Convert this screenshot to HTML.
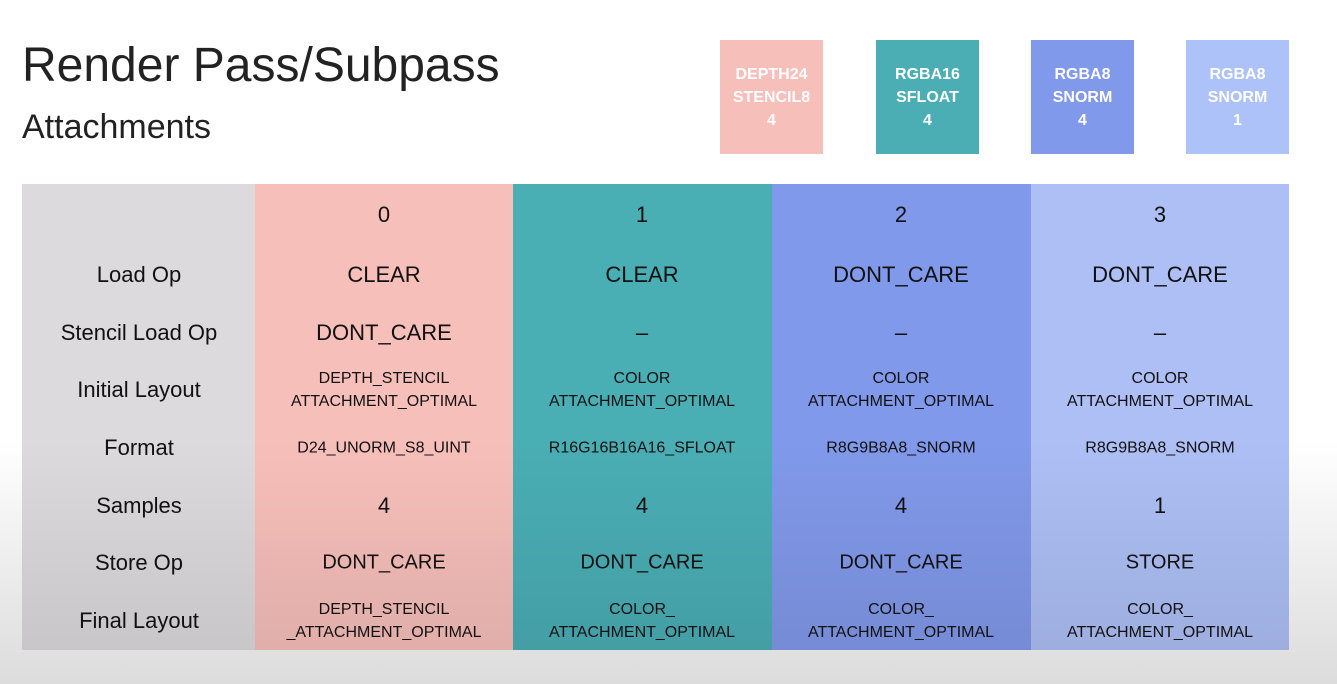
<!DOCTYPE html>
<html><head><style>
body{margin:0;width:1337px;height:684px;overflow:hidden;background:linear-gradient(#fff 0,#fff 440px,#dcdcdc 684px);font-family:"Liberation Sans",sans-serif;position:relative}
.t{position:absolute;color:#222}
.box{position:absolute;top:40px;width:103px;height:114px;color:#fff;font-size:16px;font-weight:bold;text-align:center;line-height:23px;display:flex;align-items:center;justify-content:center}
.col{position:absolute;top:184px;height:466px}
.c{position:absolute;transform:translate(-50%,-50%);text-align:center;white-space:nowrap;color:#111}
.lbl{font-size:22px}
.big{font-size:22px}
.sm{font-size:16px;line-height:23px}
.shade{position:absolute;left:22px;top:440px;width:1267px;height:210px;background:linear-gradient(rgba(0,0,0,0),rgba(0,0,0,0.09))}
</style></head><body>
<div class="t" style="left:22px;top:38px;font-size:48px;">Render Pass/Subpass</div>
<div class="t" style="left:22px;top:108px;font-size:34px;">Attachments</div>
<div class="box" style="left:720px;background:#f7bfba">DEPTH24<br>STENCIL8<br>4</div>
<div class="box" style="left:876px;background:#4caeb5">RGBA16<br>SFLOAT<br>4</div>
<div class="box" style="left:1031px;background:#8199ea">RGBA8<br>SNORM<br>4</div>
<div class="box" style="left:1186px;background:#adc2f9">RGBA8<br>SNORM<br>1</div>
<div class="col" style="left:22px;width:233px;background:#dcdadc"></div>
<div class="col" style="left:255px;width:258px;background:#f7bfba"></div>
<div class="col" style="left:513px;width:259px;background:#4aaeb5"></div>
<div class="col" style="left:772px;width:259px;background:#8199ea"></div>
<div class="col" style="left:1031px;width:258px;background:#adbff5"></div>
<div class="shade"></div>
<div class="c lbl" style="left:139px;top:275px">Load Op</div>
<div class="c lbl" style="left:139px;top:333px">Stencil Load Op</div>
<div class="c lbl" style="left:139px;top:390px">Initial Layout</div>
<div class="c lbl" style="left:139px;top:448px">Format</div>
<div class="c lbl" style="left:139px;top:506px">Samples</div>
<div class="c lbl" style="left:139px;top:563px">Store Op</div>
<div class="c lbl" style="left:139px;top:621px">Final Layout</div>

<div class="c big" style="left:384px;top:215px">0</div>
<div class="c big" style="left:642px;top:215px">1</div>
<div class="c big" style="left:901px;top:215px">2</div>
<div class="c big" style="left:1160px;top:215px">3</div>

<div class="c big" style="left:384px;top:275px">CLEAR</div>
<div class="c big" style="left:642px;top:275px">CLEAR</div>
<div class="c big" style="left:901px;top:275px">DONT_CARE</div>
<div class="c big" style="left:1160px;top:275px">DONT_CARE</div>

<div class="c big" style="left:384px;top:333px">DONT_CARE</div>
<div class="c big" style="left:642px;top:333px">–</div>
<div class="c big" style="left:901px;top:333px">–</div>
<div class="c big" style="left:1160px;top:333px">–</div>

<div class="c sm" style="left:384px;top:390px">DEPTH_STENCIL<br>ATTACHMENT_OPTIMAL</div>
<div class="c sm" style="left:642px;top:390px">COLOR<br>ATTACHMENT_OPTIMAL</div>
<div class="c sm" style="left:901px;top:390px">COLOR<br>ATTACHMENT_OPTIMAL</div>
<div class="c sm" style="left:1160px;top:390px">COLOR<br>ATTACHMENT_OPTIMAL</div>

<div class="c sm" style="left:384px;top:448px">D24_UNORM_S8_UINT</div>
<div class="c sm" style="left:642px;top:448px">R16G16B16A16_SFLOAT</div>
<div class="c sm" style="left:901px;top:448px">R8G9B8A8_SNORM</div>
<div class="c sm" style="left:1160px;top:448px">R8G9B8A8_SNORM</div>

<div class="c big" style="left:384px;top:506px">4</div>
<div class="c big" style="left:642px;top:506px">4</div>
<div class="c big" style="left:901px;top:506px">4</div>
<div class="c big" style="left:1160px;top:506px">1</div>

<div class="c" style="left:384px;top:563px;font-size:20px">DONT_CARE</div>
<div class="c" style="left:642px;top:563px;font-size:20px">DONT_CARE</div>
<div class="c" style="left:901px;top:563px;font-size:20px">DONT_CARE</div>
<div class="c" style="left:1160px;top:563px;font-size:20px">STORE</div>

<div class="c sm" style="left:384px;top:621px">DEPTH_STENCIL<br>_ATTACHMENT_OPTIMAL</div>
<div class="c sm" style="left:642px;top:621px">COLOR_<br>ATTACHMENT_OPTIMAL</div>
<div class="c sm" style="left:901px;top:621px">COLOR_<br>ATTACHMENT_OPTIMAL</div>
<div class="c sm" style="left:1160px;top:621px">COLOR_<br>ATTACHMENT_OPTIMAL</div>
</body></html>
